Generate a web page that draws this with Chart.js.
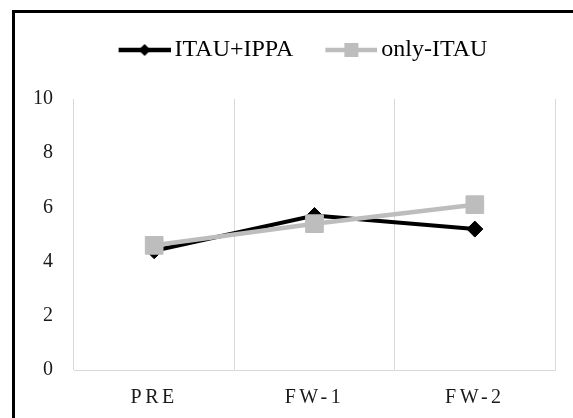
<!DOCTYPE html>
<html>
<head>
<meta charset="utf-8">
<script src="https://cdn.jsdelivr.net/npm/chart.js@4.4.1/dist/chart.umd.min.js"></script>
<style>
  html, body { margin: 0; padding: 0; background: #fff; }
  #wrap { width: 573px; height: 418px; position: relative; }
</style>
</head>
<body>
<div id="wrap"><canvas id="c" width="573" height="418"></canvas></div>
<script>
// Measurement points and group scores
const categories = ['PRE', 'FW-1', 'FW-2'];
const seriesNames = ['ITAU+IPPA', 'only-ITAU'];
const itauIppa = [4.4, 5.7, 5.2];
const onlyItau = [4.6, 5.4, 6.1];
const yTicks = [0, 2, 4, 6, 8, 10];

const BLACK = '#000000';
const GREY = '#bdbdbd';
const FONT = "'Liberation Serif', 'Times New Roman', serif";

// Legend swatch: a short line with the series marker in its middle
function swatch(color, marker) {
  const c = document.createElement('canvas');
  c.width = 54; c.height = 20;
  const g = c.getContext('2d');
  g.strokeStyle = color; g.lineWidth = 4.5;
  g.beginPath(); g.moveTo(2, 10); g.lineTo(54, 10); g.stroke();
  g.fillStyle = color;
  const cx = 28, cy = 10;
  if (marker === 'diamond') {
    g.beginPath();
    g.moveTo(cx - 6, cy); g.lineTo(cx, cy - 6); g.lineTo(cx + 6, cy); g.lineTo(cx, cy + 6);
    g.closePath(); g.fill();
  } else {
    g.fillRect(cx - 7, cy - 7, 14, 14);
  }
  return c;
}
const legendSwatches = [swatch(BLACK, 'diamond'), swatch(GREY, 'square')];

// Outer frame of the figure
const framePlugin = {
  id: 'frame',
  beforeDraw(chart) {
    const ctx = chart.ctx;
    ctx.save();
    ctx.fillStyle = '#000';
    ctx.fillRect(12, 10, 3, chart.height);
    ctx.fillRect(12, 10, chart.width, 3);
    ctx.restore();
  }
};

// Extra room under the legend and a slight shift of the legend row to the right
const legendSpacing = {
  id: 'legendSpacing',
  beforeLayout(chart) {
    const lg = chart.legend;
    if (!lg || lg._spaced) return;
    const fit = lg.fit;
    lg.fit = function () { fit.call(this); this.height += 27; };
    const draw = lg.draw;
    lg.draw = function () {
      const ctx = this.ctx;
      ctx.save();
      ctx.translate(21, 0);
      draw.call(this);
      ctx.restore();
    };
    lg._spaced = true;
  }
};

// Letter-spaced category labels
const spacedLabels = {
  id: 'spacedLabels',
  beforeDraw(chart) {
    const s = chart.scales.x;
    if (!s || s._spaced) return;
    const orig = s.drawLabels;
    s.drawLabels = function (area) {
      const ctx = this.ctx;
      ctx.save();
      ctx.letterSpacing = '3.5px';
      orig.call(this, area);
      ctx.restore();
    };
    s._spaced = true;
  }
};

new Chart(document.getElementById('c'), {
  type: 'line',
  data: {
    labels: categories,
    datasets: [
      {
        label: seriesNames[0],
        data: itauIppa,
        borderColor: BLACK,
        backgroundColor: BLACK,
        borderWidth: 4,
        pointStyle: 'rectRot',
        pointRadius: 8,
        pointBorderWidth: 1,
        pointBorderColor: BLACK,
        pointBackgroundColor: BLACK,
        tension: 0,
        order: 1
      },
      {
        label: seriesNames[1],
        data: onlyItau,
        borderColor: GREY,
        backgroundColor: GREY,
        borderWidth: 4.5,
        pointStyle: 'rect',
        pointRadius: 12.5,
        pointBorderWidth: 1,
        pointBorderColor: GREY,
        pointBackgroundColor: GREY,
        tension: 0,
        order: 0
      }
    ]
  },
  options: {
    responsive: false,
    animation: false,
    devicePixelRatio: 1,
    layout: { padding: { left: 15, right: 18, top: 0, bottom: 8 } },
    plugins: {
      tooltip: { enabled: false },
      legend: {
        position: 'top',
        align: 'center',
        labels: {
          usePointStyle: true,
          pointStyleWidth: 38,
          padding: 38,
          color: '#000',
          font: { family: FONT, size: 24 },
          sort: (a, b) => a.datasetIndex - b.datasetIndex,
          generateLabels(chart) {
            const items = Chart.defaults.plugins.legend.labels.generateLabels(chart);
            return items.map(it => Object.assign(it, { pointStyle: legendSwatches[it.datasetIndex] }));
          }
        }
      }
    },
    scales: {
      x: {
        type: 'category',
        offset: true,
        grid: { display: true, offset: true, color: '#d9d9d9', lineWidth: 1, drawTicks: false },
        border: { display: true, color: '#d9d9d9', width: 1 },
        afterFit: s => { s.height = 40; },
        ticks: { color: '#1a1a1a', padding: 16, font: { family: FONT, size: 20 } }
      },
      y: {
        min: 0,
        max: 10,
        grid: { display: false, drawTicks: false },
        border: { display: false },
        afterBuildTicks: s => { s.ticks = yTicks.map(v => ({ value: v })); },
        afterFit: s => { s.width = 59; },
        ticks: { color: '#1a1a1a', padding: 21, font: { family: FONT, size: 20 } }
      }
    }
  },
  plugins: [framePlugin, legendSpacing, spacedLabels]
});
</script>
</body>
</html>
